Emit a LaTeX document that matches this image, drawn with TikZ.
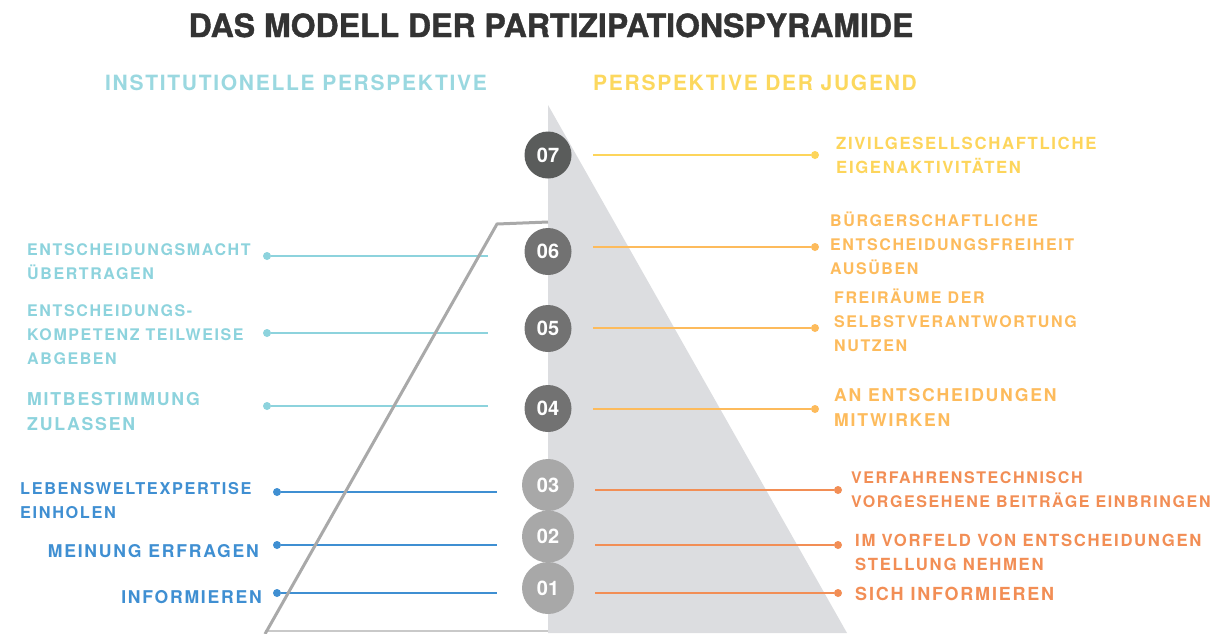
\documentclass[tikz,border=0pt]{standalone}
\usepackage{fontspec}
\setmainfont{TeX Gyre Heros}
\newfontfamily\labfont[LetterSpace=10]{TeX Gyre Heros}
\newfontfamily\headfont[LetterSpace=8.2]{TeX Gyre Heros Bold}
\newfontfamily\titlefont[FakeBold=1.2]{TeX Gyre Heros Bold}
\definecolor{titlec}{HTML}{333333}
\definecolor{cyanc}{HTML}{8DD3DD}
\definecolor{cyanhead}{HTML}{9AD8E0}
\definecolor{bluec}{HTML}{3F8FD2}
\definecolor{yellowc}{HTML}{FDD55B}
\definecolor{yellowhead}{HTML}{FCD85E}
\definecolor{lorange}{HTML}{FDBB5C}
\definecolor{orangec}{HTML}{F28E55}
\definecolor{csev}{HTML}{5A5C5B}
\definecolor{cmid}{HTML}{727272}
\definecolor{clow}{HTML}{A8A8A8}
\definecolor{tric}{HTML}{DCDDE0}
\definecolor{outlc}{HTML}{A9A9A9}
\definecolor{bottomc}{HTML}{C9C9C9}
\begin{document}
\begin{tikzpicture}[x=1pt,y=-1pt,
  lab/.style={font=\labfont\bfseries\fontsize{#1}{24}\selectfont, inner sep=0pt, align=left, anchor=base west},
  lab/.default=16,
  labw/.style={font=\labfont\bfseries\fontsize{#1}{25}\selectfont, inner sep=0pt, align=left, anchor=base west},
  labr/.style={font=\labfont\bfseries\fontsize{#1}{24}\selectfont, inner sep=0pt, anchor=base east},
  head/.style={font=\headfont\fontsize{21}{21}\selectfont, inner sep=0pt, anchor=base west},
  circ/.style={circle, inner sep=0pt, text=white, font=\bfseries\fontsize{20}{20}\selectfont},
  bigc/.style={circ, minimum size=47pt},
  lowc/.style={circ, minimum size=52pt},
  dot/.style={circle, inner sep=0pt, minimum size=8pt},
  conn/.style={line width=2pt}]
\useasboundingbox[fill=white] (0,0) rectangle (1220,633);
% pyramid
\fill[tric] (548,105) -- (847,633) -- (548,633) -- cycle;
% title and headers
\node[font=\titlefont\fontsize{32}{32}\selectfont, text=titlec, inner sep=0pt, anchor=base] (title) at (551,37) {DAS MODELL DER PARTIZIPATIONSPYRAMIDE};
\node[head, text=cyanhead] (hl) at (105,90) {INSTITUTIONELLE PERSPEKTIVE};
\node[head, text=yellowhead] (hr) at (593,90) {PERSPEKTIVE DER JUGEND};
% left dots and line ends
\node[dot, fill=cyanc] (ld6) at (267,256) {};
\node[dot, fill=cyanc] (ld5) at (267,333) {};
\node[dot, fill=cyanc] (ld4) at (267,406) {};
\node[dot, fill=bluec] (ld3) at (277,492) {};
\node[dot, fill=bluec] (ld2) at (277,545) {};
\node[dot, fill=bluec] (ld1) at (277,593) {};
\coordinate (le6) at (488,256);
\coordinate (le5) at (488,333);
\coordinate (le4) at (488,406);
\coordinate (le3) at (497,492);
\coordinate (le2) at (497,545);
\coordinate (le1) at (497,593);
\draw[conn, cyanc] (ld6) -- (le6);
\draw[conn, cyanc] (ld5) -- (le5);
\draw[conn, cyanc] (ld4) -- (le4);
\draw[conn, bluec] (ld3) -- (le3);
\draw[conn, bluec] (ld2) -- (le2);
\draw[conn, bluec] (ld1) -- (le1);
% right dots and line starts
\node[dot, fill=yellowc] (rd7) at (815,155) {};
\node[dot, fill=lorange] (rd6) at (815,247) {};
\node[dot, fill=lorange] (rd5) at (815,328) {};
\node[dot, fill=lorange] (rd4) at (815,409) {};
\node[dot, fill=orangec] (rd3) at (838,490) {};
\node[dot, fill=orangec] (rd2) at (838,545) {};
\node[dot, fill=orangec] (rd1) at (838,593) {};
\coordinate (rs7) at (593,155);
\coordinate (rs6) at (593,247);
\coordinate (rs5) at (593,328);
\coordinate (rs4) at (593,409);
\coordinate (rs3) at (595,490);
\coordinate (rs2) at (595,545);
\coordinate (rs1) at (595,593);
\draw[conn, yellowc] (rs7) -- (rd7);
\draw[conn, lorange] (rs6) -- (rd6);
\draw[conn, lorange] (rs5) -- (rd5);
\draw[conn, lorange] (rs4) -- (rd4);
\draw[conn, orangec] (rs3) -- (rd3);
\draw[conn, orangec] (rs2) -- (rd2);
\draw[conn, orangec] (rs1) -- (rd1);
% outline of the institutional side
\draw[bottomc, line width=2pt] (265,631) -- (548,631);
\draw[outlc, line width=3pt] (265,634) -- (497,224) -- (548,222);
% circles
\node[bigc, fill=csev] (c7) at (548,155) {07};
\node[bigc, fill=cmid] (c6) at (548,251.5) {06};
\node[bigc, fill=cmid] (c5) at (548,328.5) {05};
\node[bigc, fill=cmid] (c4) at (548,408.5) {04};
\node[lowc, fill=clow] (c3) at (548,485) {03};
\node[lowc, fill=clow] (c2) at (548,536.5) {02};
\node[lowc, fill=clow] (c1) at (548,588) {01};
% left labels (anchor = baseline of last line)
\node[lab, text=cyanc] (l6) at (27,279) {ENTSCHEIDUNGSMACHT\\ÜBERTRAGEN};
\node[lab, text=cyanc] (l5) at (27,364) {ENTSCHEIDUNGS-\\KOMPETENZ TEILWEISE\\ABGEBEN};
\node[labw=17.7, text=cyanc] (l4) at (27,430) {MITBESTIMMUNG\\ZULASSEN};
\node[lab=16.3, text=bluec] (l3) at (20,518) {LEBENSWELTEXPERTISE\\EINHOLEN};
\node[labr=17.6, text=bluec] (l2) at (259,557) {MEINUNG ERFRAGEN};
\node[labr=17.6, text=bluec] (l1) at (262,603) {INFORMIEREN};
% right labels
\node[lab=16.7, text=yellowc] (r7) at (836,173) {ZIVILGESELLSCHAFTLICHE\\EIGENAKTIVITÄTEN};
\node[lab, text=lorange] (r6) at (830,274) {BÜRGERSCHAFTLICHE\\ENTSCHEIDUNGSFREIHEIT\\AUSÜBEN};
\node[lab, text=lorange] (r5) at (834,351) {FREIRÄUME DER\\SELBSTVERANTWORTUNG\\NUTZEN};
\node[labw=17.6, text=lorange] (r4) at (834,426) {AN ENTSCHEIDUNGEN\\MITWIRKEN};
\node[lab, text=orangec] (r3) at (851,507) {VERFAHRENSTECHNISCH\\VORGESEHENE BEITRÄGE EINBRINGEN};
\node[lab=16.7, text=orangec] (r2) at (855,570) {IM VORFELD VON ENTSCHEIDUNGEN\\STELLUNG NEHMEN};
\node[lab=18, text=orangec] (r1) at (855,600) {SICH INFORMIEREN};
\end{tikzpicture}
\end{document}
